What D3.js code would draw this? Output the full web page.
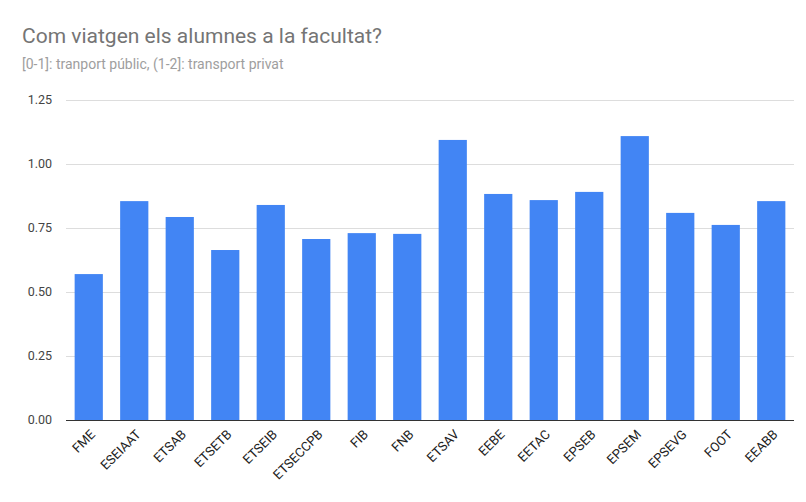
<!DOCTYPE html>
<html lang="en">
<head>
<meta charset="UTF-8">
<script src="https://d3js.org/d3.v7.min.js"></script>
<style>
  body { margin: 0; background: #fff; }
  svg { font-family: Roboto, Arial, sans-serif; }
</style>
</head>
<body>
<div id="chart"></div>
<script>
    var schools = ["FME","ESEIAAT","ETSAB","ETSETB","ETSEIB","ETSECCPB","FIB","FNB","ETSAV","EEBE","EETAC","EPSEB","EPSEM","EPSEVG","FOOT","EEABB"];
    var values = [0.570,0.855,0.793,0.664,0.840,0.707,0.730,0.727,1.094,0.883,0.859,0.891,1.109,0.809,0.762,0.855];
    var yTicks = [0, 0.25, 0.5, 0.75, 1, 1.25];

    var W = 806, H = 502;
    var margin = {top: 100, right: 12, bottom: 82, left: 66};
    var width = W - margin.left - margin.right,
        height = H - margin.top - margin.bottom;

    var svg = d3.select("#chart").append("svg").attr("width", W).attr("height", H);

    svg.append("text").attr("x", 22).attr("y", 43)
        .attr("font-size", 21).attr("fill", "#757575")
        .text("Com viatgen els alumnes a la facultat?");
    svg.append("text").attr("x", 22).attr("y", 69)
        .attr("font-size", 14).attr("fill", "#9e9e9e")
        .text("[0-1]: tranport públic, (1-2]: transport privat");

    var g = svg.append("g").attr("transform", "translate(" + margin.left + "," + margin.top + ")");

    var x = d3.scaleBand().domain(schools).range([0, width]).paddingInner(0.38).paddingOuter(0.19);
    var y = d3.scaleLinear().domain([0, 1.25]).range([height, 0]);

    // grid + y labels
    g.selectAll(".grid").data(yTicks).enter().append("line")
        .attr("x1", 0).attr("x2", width)
        .attr("y1", function(d){ return y(d); }).attr("y2", function(d){ return y(d); })
        .attr("stroke", function(d){ return d === 0 ? "#333" : "#ddd"; })
        .attr("stroke-width", 1).attr("shape-rendering", "crispEdges");
    g.selectAll(".ylab").data(yTicks).enter().append("text")
        .attr("x", -14).attr("y", function(d){ return y(d); }).attr("dy", "0.35em")
        .attr("text-anchor", "end").attr("font-size", 12.5).attr("fill", "#444")
        .text(function(d){ return d3.format(".2f")(d); });

    g.selectAll(".bar").data(values).enter().append("rect")
        .attr("x", function(d, i){ return x(schools[i]); })
        .attr("y", function(d){ return y(d); })
        .attr("width", x.bandwidth())
        .attr("height", function(d){ return height - y(d); })
        .attr("fill", "#4285f4");

    g.selectAll(".xlab").data(schools).enter().append("text")
        .attr("transform", function(d){
            return "translate(" + (x(d) + x.bandwidth() / 2 + 4) + "," + (height + 12) + ") rotate(-45)";
        })
        .attr("text-anchor", "end").attr("dy", "0.35em")
        .attr("font-size", 13).attr("fill", "#222")
        .text(function(d){ return d; });
</script>
</body>
</html>
